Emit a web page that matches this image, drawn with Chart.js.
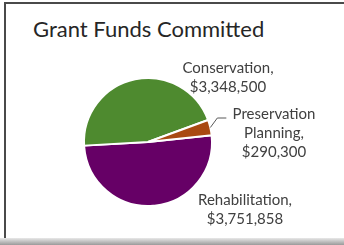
<html>
<head>
<script src="https://cdn.jsdelivr.net/npm/chart.js@4"></script>
<style>
  body { margin:0; width:344px; height:245px; background:#fff; overflow:hidden; position:relative; font-family: Lato, sans-serif; }
  #frame { position:absolute; left:4px; top:2px; width:338px; height:236px; border-left:2px solid #4a4a4a; border-top:2px solid #4a4a4a; }
  #shadow { position:absolute; left:0; top:238px; width:344px; height:7px; background:linear-gradient(#e8e8e8, #9a9a9a); }
  #title { position:absolute; left:33px; top:15px; font-size:22px; color:#262626; white-space:nowrap; }
  #c { position:absolute; left:0; top:0; }
</style>
</head>
<body>
<div id="frame"></div>
<div id="shadow"></div>
<div id="title">Grant Funds Committed</div>
<canvas id="c" width="344" height="238"></canvas>
<script>
var categories = ['Rehabilitation', 'Conservation', 'Preservation Planning'];
var values = [3751858, 3348500, 290300];
var colors = ['#660066', '#4e8a2f', '#a94a12'];
// label text lines and placement relative to pie centre
var labelLines = [['Rehabilitation,'], ['Conservation,'], ['Preservation', 'Planning,']];
var labelOffsets = [[97, 58], [80, -74], [126, -28]];

function money(v){ return '$' + v.toLocaleString('en-US'); }

var labelsPlugin = {
  id: 'sliceLabels',
  afterDraw: function(chart){
    var ctx = chart.ctx;
    var meta = chart.getDatasetMeta(0);
    var arc0 = meta.data[0];
    var cx = arc0.x, cy = arc0.y;
    ctx.save();
    ctx.font = '15px Lato';
    ctx.fillStyle = '#404040';
    ctx.textAlign = 'center';
    ctx.textBaseline = 'middle';
    for (var i = 0; i < values.length; i++) {
      var lines = labelLines[i].concat([money(values[i])]);
      var x = cx + labelOffsets[i][0], y = cy + labelOffsets[i][1];
      for (var j = 0; j < lines.length; j++) ctx.fillText(lines[j], x, y + j * 19);
    }
    // leader line for the small slice
    var a = meta.data[2];
    var mid = (a.startAngle + a.endAngle) / 2;
    var sx = cx + Math.cos(mid) * a.outerRadius, sy = cy + Math.sin(mid) * a.outerRadius;
    ctx.strokeStyle = '#595959';
    ctx.lineWidth = 1;
    ctx.beginPath();
    ctx.moveTo(sx, sy);
    ctx.lineTo(sx + 7, cy - 24);
    ctx.lineTo(sx + 16, cy - 24);
    ctx.stroke();
    ctx.restore();
  }
};

new Chart(document.getElementById('c').getContext('2d'), {
  type: 'pie',
  data: {
    labels: categories,
    datasets: [{ data: values, backgroundColor: colors, borderColor: '#ffffff', borderWidth: 2 }]
  },
  options: {
    responsive: false,
    animation: false,
    rotation: 84,
    layout: { padding: { left: 83, right: 131, top: 77, bottom: 31 } },
    plugins: { legend: { display: false }, tooltip: { enabled: false } }
  },
  plugins: [labelsPlugin]
});
</script>
</body>
</html>
